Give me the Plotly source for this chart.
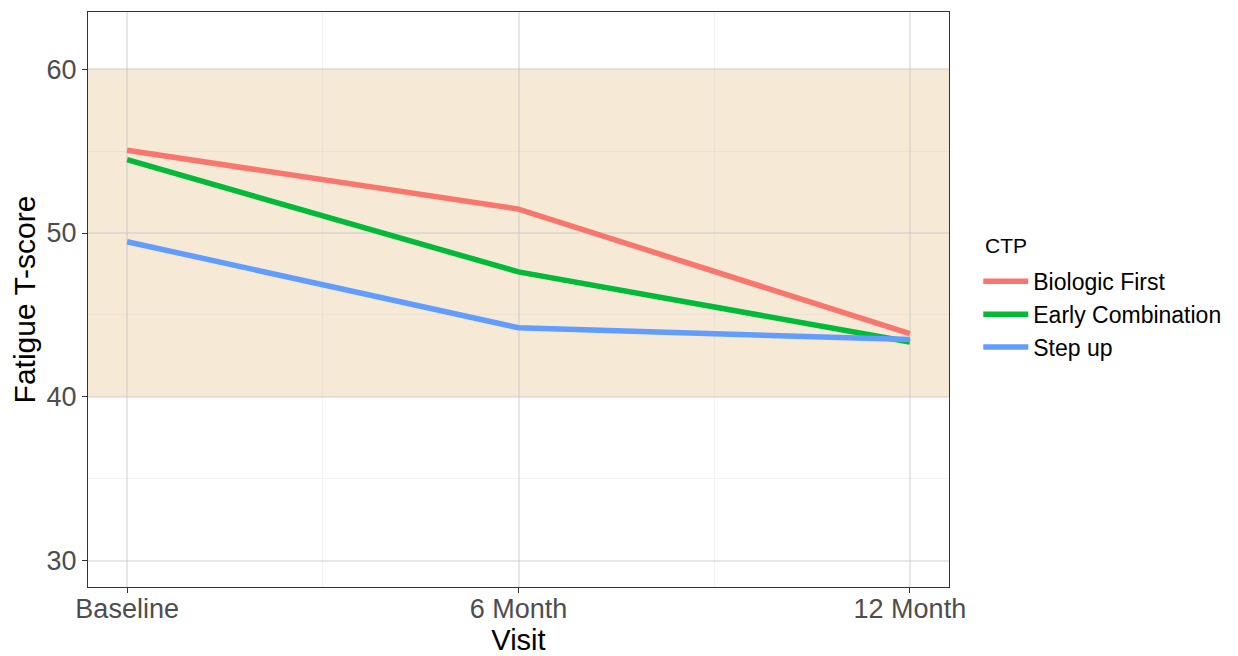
import plotly.graph_objects as go

visits = ["Baseline", "6 Month", "12 Month"]
series_names = ["Biologic First", "Early Combination", "Step up"]
biologic_first = [55.05, 51.46, 43.86]
early_combination = [54.47, 47.63, 43.35]
step_up = [49.47, 44.22, 43.50]
colors = ["#F8766D", "#00BA38", "#619CFF"]
band_low, band_high = 40, 60
y_ticks = [30, 40, 50, 60]

fig = go.Figure()
xpos = list(range(len(visits)))
for name, vals, col in zip(series_names, [biologic_first, early_combination, step_up], colors):
    fig.add_trace(go.Scatter(x=xpos, y=vals, mode="lines", name=name,
                             line=dict(color=col, width=5.5)))

fig.add_shape(type="rect", xref="x domain", yref="y", x0=0, x1=1, y0=band_low, y1=band_high,
              fillcolor="rgb(246,234,214)", line_width=0, layer="below")

fig.add_annotation(text="CTP", xref="paper", yref="paper", x=1.0395, y=0.5935,
                   xanchor="left", yanchor="middle", showarrow=False,
                   font=dict(size=21, color="black"))

fig.update_layout(
    width=1230, height=648,
    margin=dict(l=80, r=289, t=4, b=69),
    paper_bgcolor="white", plot_bgcolor="white",
    font=dict(family="Liberation Sans, Arial, sans-serif", color="black"),
    showlegend=True,
    legend=dict(font=dict(size=23),
                x=1.034, xanchor="left", y=0.569, yanchor="top",
                itemwidth=45, tracegroupgap=0),
)
grid_col = "rgba(195,195,195,0.4)"
minor_col = "rgba(200,200,200,0.22)"
fig.update_xaxes(range=[-0.1, 2.1], tickmode="array", tickvals=xpos, ticktext=visits,
                 tickfont=dict(size=27, color="#4D4D4D"), ticklabelstandoff=-7,
                 title=dict(text="Visit", font=dict(size=29, color="black"), standoff=8),
                 automargin=False,
                 showgrid=True, gridcolor=grid_col, gridwidth=1.6,
                 minor=dict(tickvals=[0.5, 1.5], showgrid=True, gridcolor=minor_col, gridwidth=1, ticklen=0),
                 ticks="outside", ticklen=5, tickcolor="#333333", tickwidth=1.2,
                 showline=True, linecolor="#333333", linewidth=1, mirror=True, zeroline=False)
fig.update_yaxes(range=[28.41, 63.48], tickmode="array", tickvals=y_ticks,
                 tickfont=dict(size=27, color="#4D4D4D"),
                 title=dict(text="Fatigue T-score", font=dict(size=30, color="black"), standoff=4),
                 automargin=False,
                 showgrid=True, gridcolor=grid_col, gridwidth=1.6,
                 minor=dict(tickvals=[35, 45, 55], showgrid=True, gridcolor=minor_col, gridwidth=1, ticklen=0),
                 ticks="outside", ticklen=5, tickcolor="#333333", tickwidth=1.2,
                 showline=True, linecolor="#333333", linewidth=1, mirror=True, zeroline=False)

fig.write_html("out.html")
